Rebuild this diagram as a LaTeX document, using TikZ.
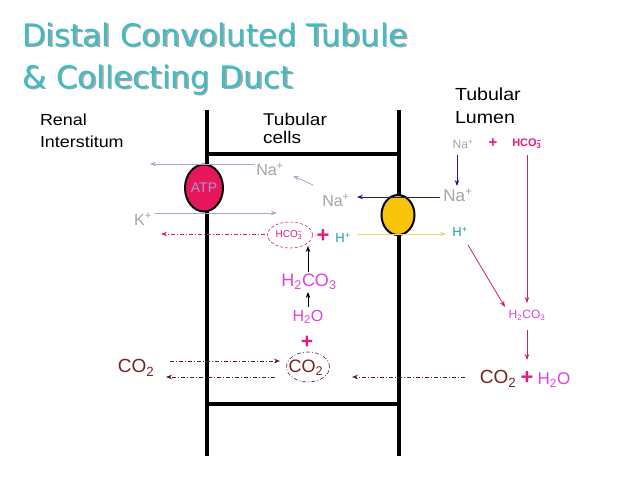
\documentclass[tikz,border=0pt]{standalone}
\usepackage{fontspec}
\setmainfont{Liberation Sans}
\newfontfamily\labelfont{Liberation Sans}[FakeStretch=1.12]
\newfontfamily\titlefont{DejaVu Sans}
\usetikzlibrary{arrows.meta,shapes.geometric}
\definecolor{titleteal}{HTML}{3DBDC6}
\definecolor{ionGray}{HTML}{A4A4A4}
\definecolor{lilac}{HTML}{B2A2D4}
\definecolor{navyArrow}{HTML}{1C1C8A}
\definecolor{goldArrow}{HTML}{F3D66A}
\definecolor{tealH}{HTML}{1E9E9E}
\definecolor{pinkIon}{HTML}{E6197A}
\definecolor{pinkArrow}{HTML}{D21E72}
\definecolor{magentaIon}{HTML}{DE42DE}
\definecolor{co2brown}{HTML}{7A2222}
\definecolor{co2arrow}{HTML}{5A1A40}
\definecolor{atpfill}{HTML}{E8175D}
\definecolor{atptext}{HTML}{A696CC}
\definecolor{goldfill}{HTML}{F7C40A}
\newcommand\myfs[1]{\fontsize{#1}{#1}\selectfont}
\newcommand\hcothree{HCO\rlap{\textsubscript{3}}\textsuperscript{−}}
\tikzset{
  wall/.style={line width=4pt, black},
  txt/.style={inner sep=0pt, outer sep=0pt},
  lbl/.style={txt, anchor=base west, font=\labelfont\myfs{16}},
  ion/.style={txt, anchor=center},
  tip/.style={-{Stealth[length=6pt,width=4.5pt]}},
  thinarrow/.style={tip, line width=0.8pt},
  dashdot/.style={dash pattern=on 4pt off 2pt on 1pt off 2pt},
}
\begin{document}
\begin{tikzpicture}[x=1pt,y=-1pt]
\useasboundingbox[fill=white] (0,0) rectangle (638,479);

% title with shadow
\node[txt, anchor=base west, font=\titlefont\myfs{31}, text=black!35] (t1s) at (23.5,47.5) {Distal Convoluted Tubule};
\node[txt, anchor=base west, font=\titlefont\myfs{31}, text=black!35] (t2s) at (23.5,89.5) {\& Collecting Duct};
\node[txt, anchor=base west, font=\titlefont\myfs{31}, text=titleteal] (t1) at (22,46) {Distal Convoluted Tubule};
\node[txt, anchor=base west, font=\titlefont\myfs{31}, text=titleteal] (t2) at (22,88) {\& Collecting Duct};

% walls
\coordinate (lwTop) at (207,110); \coordinate (lwBot) at (207,456);
\coordinate (rwTop) at (399,110); \coordinate (rwBot) at (399,456);
\draw[wall] (lwTop) -- (lwBot);
\draw[wall] (rwTop) -- (rwBot);
\draw[wall] (lwTop |- 0,154) coordinate (h1a) -- (rwTop |- 0,154) coordinate (h1b);
\draw[wall] (lwTop |- 0,404) coordinate (h2a) -- (rwTop |- 0,404) coordinate (h2b);

% region labels
\node[lbl] (renal) at (40,125) {Renal};
\node[lbl] (inter) at (40,147) {Interstitum};
\node[lbl, font=\labelfont\myfs{17}] (tub1) at (263,125) {Tubular};
\node[lbl, font=\labelfont\myfs{17}] (tub2) at (263,143) {cells};
\node[lbl, font=\labelfont\myfs{17.5}] (lum1) at (455,100) {Tubular};
\node[lbl, font=\labelfont\myfs{17.5}] (lum2) at (455,123) {Lumen};

% pumps
\node[draw=black, line width=2pt, fill=atpfill, ellipse, minimum width=38pt, minimum height=47pt, inner sep=0pt, text=atptext, font=\myfs{14}] (atp) at (204,188) {ATP};
\node[draw=black, line width=2pt, fill=goldfill, ellipse, minimum width=33pt, minimum height=40pt, inner sep=0pt] (antiport) at (398,215) {};

% ions
\node[ion, text=ionGray, font=\myfs{16}] (naA) at (270,169) {Na\textsuperscript{+}};
\node[ion, text=ionGray, font=\myfs{16}] (naB) at (336,200) {Na\textsuperscript{+}};
\node[ion, text=ionGray, font=\myfs{16}] (kIon) at (143,219) {K\textsuperscript{+}};
\node[ion, text=ionGray, font=\myfs{12}] (naL1) at (463,144) {Na\textsuperscript{+}};
\node[ion, text=pinkIon, font=\bfseries\myfs{15}] (plusL) at (493,143) {+};
\node[ion, text=pinkIon, font=\bfseries\myfs{11}] (hcoL) at (527,144) {\hcothree};
\node[ion, text=ionGray, font=\myfs{17}] (naL2) at (458,195) {Na\textsuperscript{+}};
\node[ion, text=tealH, font=\myfs{13}] (hL) at (460,232) {H\textsuperscript{+}};
\node[ion, text=tealH, font=\myfs{13}] (hC) at (343,238) {H\textsuperscript{+}};
\node[ion, text=pinkIon, font=\myfs{10}] (hcoC) at (289,235) {\hcothree};
\node[draw=pinkIon, densely dashed, line width=0.6pt, ellipse, minimum width=45pt, minimum height=26pt, inner sep=0pt] (hcoRing) at (290,235) {};
\node[ion, text=pinkIon, font=\bfseries\myfs{22}] (plusC) at (323,236) {+};
\node[ion, text=magentaIon, font=\myfs{18}] (h2co3C) at (309,282) {H\textsubscript{2}CO\textsubscript{3}};
\node[ion, text=magentaIon, font=\myfs{16}] (h2oC) at (308,317) {H\textsubscript{2}O};
\node[ion, text=pinkIon, font=\bfseries\myfs{21}] (plusC2) at (307,342) {+};
\node[ion, text=co2brown, font=\myfs{18}] (co2C) at (306,368) {CO\textsubscript{2}};
\node[draw=co2arrow, dashdot, line width=0.6pt, ellipse, minimum width=43pt, minimum height=30pt, inner sep=0pt] (co2Ring) at (308,367) {};
\node[ion, text=co2brown, font=\myfs{19}] (co2I) at (136,368) {CO\textsubscript{2}};
\node[ion, text=magentaIon, font=\myfs{12}] (h2co3L) at (527,315) {H\textsubscript{2}CO\textsubscript{3}};
\node[ion, text=co2brown, font=\myfs{19}] (co2L) at (498,379) {CO\textsubscript{2}};
\node[ion, text=pinkIon, font=\bfseries\myfs{22}] (plusL2) at (527,378) {+};
\node[ion, text=magentaIon, font=\myfs{17}] (h2oL) at (554,380) {H\textsubscript{2}O};

% arrow endpoints
\coordinate (naOutS) at (255,164); \coordinate (naOutE) at (150,164);
\coordinate (kInS) at (155,213); \coordinate (kInE) at (277,213);
\coordinate (naBAS) at (313,185); \coordinate (naBAE) at (293,176);
\coordinate (blueS) at (440,197); \coordinate (blueE) at (357,197);
\coordinate (blueDS) at (457,155); \coordinate (blueDE) at (457,186);
\coordinate (yelS) at (357,234); \coordinate (yelE) at (446,234);
\coordinate (hcoOutS) at (265,234); \coordinate (hcoOutE) at (161,234);
\coordinate (upAS) at (308,272); \coordinate (upAE) at (308,246);
\coordinate (upBS) at (308,307); \coordinate (upBE) at (308,292);
\coordinate (co2InS) at (170,361); \coordinate (co2InE) at (280,361);
\coordinate (co2OutS) at (275,377); \coordinate (co2OutE) at (166,377);
\coordinate (co2LumS) at (465,377); \coordinate (co2LumE) at (352,377);
\coordinate (lumDS) at (527,155); \coordinate (lumDE) at (527,303);
\coordinate (lumD2S) at (527,330); \coordinate (lumD2E) at (527,360);
\coordinate (diagS) at (468,245); \coordinate (diagE) at (505,307);

% connectors
\draw[thinarrow, lilac] (naOutS) -- (naOutE);
\draw[thinarrow, lilac] (kInS) -- (kInE);
\draw[thinarrow, lilac] (naBAS) -- (naBAE);
\draw[thinarrow, navyArrow] (blueS) -- (blueE);
\draw[thinarrow, navyArrow] (blueDS) -- (blueDE);
\draw[thinarrow, goldArrow, line width=1pt] (yelS) -- (yelE);
\draw[thinarrow, pinkIon, dashdot] (hcoOutS) -- (hcoOutE);
\draw[thinarrow, black] (upAS) -- (upAE);
\draw[thinarrow, black] (upBS) -- (upBE);
\draw[thinarrow, co2arrow, dashdot] (co2InS) -- (co2InE);
\draw[thinarrow, co2arrow, dashdot] (co2OutS) -- (co2OutE);
\draw[thinarrow, co2arrow, dashdot] (co2LumS) -- (co2LumE);
\draw[thinarrow, pinkArrow] (lumDS) -- (lumDE);
\draw[thinarrow, pinkArrow] (lumD2S) -- (lumD2E);
\draw[thinarrow, pinkArrow] (diagS) -- (diagE);
\end{tikzpicture}
\end{document}
